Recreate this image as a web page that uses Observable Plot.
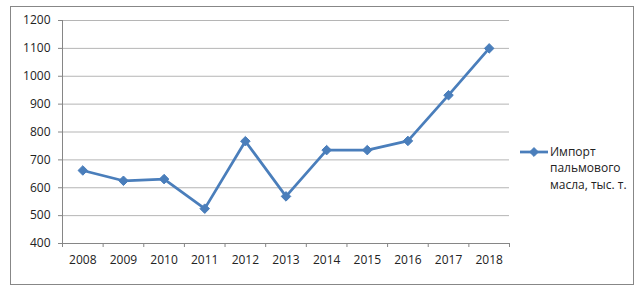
<!DOCTYPE html>
<html><head><meta charset="utf-8">
<script src="https://cdn.jsdelivr.net/npm/d3@7"></script>
<script src="https://cdn.jsdelivr.net/npm/@observablehq/plot@0.6"></script>
<style>
html,body{margin:0;padding:0;background:#fff;}
#wrap{position:relative;width:643px;height:292px;overflow:hidden;}
#frame{position:absolute;left:10px;top:6px;width:622px;height:277px;border:1px solid #878787;box-sizing:content-box;}
#chart{position:absolute;left:0;top:0;}
</style></head>
<body>
<div id="wrap"><div id="frame"></div><div id="chart"></div></div>
<script>
const years = [2008,2009,2010,2011,2012,2013,2014,2015,2016,2017,2018];
const values = [662,625,631,525,767,569,735,735,768,932,1100];
const yTicks = [400,500,600,700,800,900,1000,1100,1200];
const legendLines = ["Импорт","пальмового","масла, тыс. т."];

const data = years.map((y,i)=>({year:y,value:values[i]}));
const bounds = [years[0]-0.5, ...years.map(y=>y+0.5)];
const blue = "#4A7EBB";
const font = "'Open Sans', sans-serif";

const chart = Plot.plot({
  width:643, height:292,
  marginLeft:62, marginRight:134, marginTop:20, marginBottom:49,
  style:{fontFamily:font, fontSize:"12px", background:"transparent", color:"#222"},
  x:{domain:[bounds[0], bounds[bounds.length-1]], label:null},
  y:{domain:[400,1200], label:null},
  marks:[
    Plot.ruleY(yTicks.filter(v=>v>400), {stroke:"#b5b5b5", strokeWidth:1}),
    Plot.axisY({ticks:yTicks, tickSize:4, tickPadding:8, stroke:"#868686", fill:"#222", label:null, tickFormat:d=>String(d)}),
    Plot.axisX({ticks:bounds, tickSize:4, stroke:"#868686", label:null, tickFormat:()=>""}),
    Plot.axisX({ticks:years, tickSize:0, tickPadding:12, fill:"#222", label:null, tickFormat:d=>String(d)}),
    Plot.ruleX([bounds[0]], {stroke:"#868686"}),
    Plot.ruleY([400], {stroke:"#868686"}),
    Plot.line(data, {x:"year", y:"value", stroke:blue, strokeWidth:2.75}),
    Plot.dot(data, {x:"year", y:"value", symbol:"diamond2", r:4.3, fill:blue, stroke:blue, strokeWidth:1})
  ]
});
document.getElementById("chart").appendChild(chart);

// legend
const svg = d3.select(chart);
const lg = svg.append("g").attr("font-family", font).attr("font-size", 12).attr("fill", "#222").attr("text-anchor","start");
lg.append("line").attr("x1",520).attr("x2",548).attr("y1",152).attr("y2",152).attr("stroke",blue).attr("stroke-width",2.75);
lg.append("path").attr("d", d3.symbol(d3.symbolDiamond2, 50)()).attr("transform","translate(534,152)").attr("fill",blue).attr("stroke",blue);
legendLines.forEach((t,i)=>{
  lg.append("text").attr("x",550).attr("y",152+i*16.2).attr("dy","0.35em").attr("text-anchor","start").text(t);
});
</script>
</body></html>
